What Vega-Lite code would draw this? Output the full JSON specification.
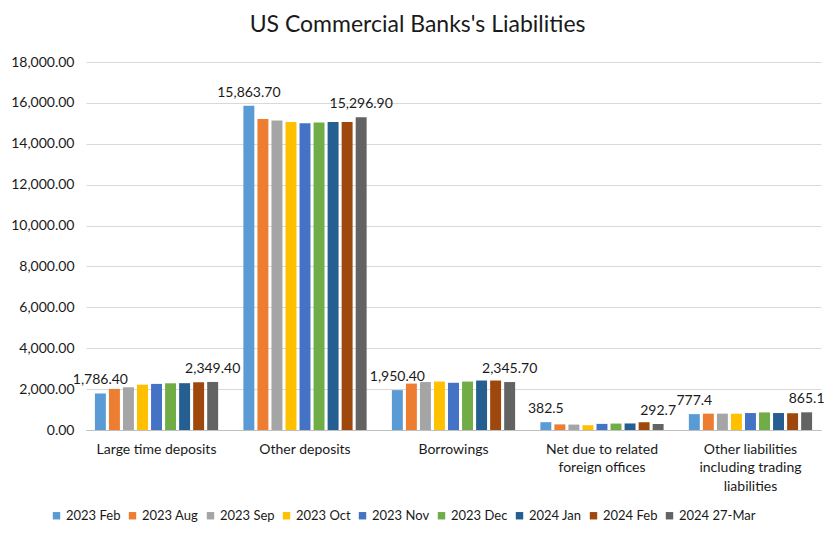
{
  "$schema": "https://vega.github.io/schema/vega-lite/v6.json",
  "autosize": {"type": "pad"},
  "width": 735,
  "height": 368,
  "padding": {"left": 10, "right": 10, "top": 14, "bottom": 10},
  "background": "white",
  "title": {"text": "US Commercial  Banks's Liabilities", "fontSize": 23, "font": "Lato", "fontWeight": "normal", "color": "#1a1a1a", "offset": 18, "frame": "bounds"},
  "data": {"values": [
    {"category": "Large time deposits", "series": "2023 Feb", "value": 1786.4},
    {"category": "Large time deposits", "series": "2023 Aug", "value": 2010},
    {"category": "Large time deposits", "series": "2023 Sep", "value": 2090},
    {"category": "Large time deposits", "series": "2023 Oct", "value": 2215},
    {"category": "Large time deposits", "series": "2023 Nov", "value": 2255},
    {"category": "Large time deposits", "series": "2023 Dec", "value": 2285},
    {"category": "Large time deposits", "series": "2024 Jan", "value": 2290},
    {"category": "Large time deposits", "series": "2024 Feb", "value": 2335},
    {"category": "Large time deposits", "series": "2024 27-Mar", "value": 2349.4},
    {"category": "Other deposits", "series": "2023 Feb", "value": 15863.7},
    {"category": "Other deposits", "series": "2023 Aug", "value": 15210},
    {"category": "Other deposits", "series": "2023 Sep", "value": 15140},
    {"category": "Other deposits", "series": "2023 Oct", "value": 15070},
    {"category": "Other deposits", "series": "2023 Nov", "value": 15000},
    {"category": "Other deposits", "series": "2023 Dec", "value": 15035},
    {"category": "Other deposits", "series": "2024 Jan", "value": 15065},
    {"category": "Other deposits", "series": "2024 Feb", "value": 15065},
    {"category": "Other deposits", "series": "2024 27-Mar", "value": 15296.9},
    {"category": "Borrowings", "series": "2023 Feb", "value": 1950.4},
    {"category": "Borrowings", "series": "2023 Aug", "value": 2270},
    {"category": "Borrowings", "series": "2023 Sep", "value": 2345},
    {"category": "Borrowings", "series": "2023 Oct", "value": 2370},
    {"category": "Borrowings", "series": "2023 Nov", "value": 2310},
    {"category": "Borrowings", "series": "2023 Dec", "value": 2370},
    {"category": "Borrowings", "series": "2024 Jan", "value": 2420},
    {"category": "Borrowings", "series": "2024 Feb", "value": 2420},
    {"category": "Borrowings", "series": "2024 27-Mar", "value": 2345.7},
    {"category": "Net due to related foreign offices", "series": "2023 Feb", "value": 382.5},
    {"category": "Net due to related foreign offices", "series": "2023 Aug", "value": 275},
    {"category": "Net due to related foreign offices", "series": "2023 Sep", "value": 265},
    {"category": "Net due to related foreign offices", "series": "2023 Oct", "value": 235},
    {"category": "Net due to related foreign offices", "series": "2023 Nov", "value": 300},
    {"category": "Net due to related foreign offices", "series": "2023 Dec", "value": 315},
    {"category": "Net due to related foreign offices", "series": "2024 Jan", "value": 320},
    {"category": "Net due to related foreign offices", "series": "2024 Feb", "value": 380},
    {"category": "Net due to related foreign offices", "series": "2024 27-Mar", "value": 292.7},
    {"category": "Other liabilities including trading liabilities", "series": "2023 Feb", "value": 777.4},
    {"category": "Other liabilities including trading liabilities", "series": "2023 Aug", "value": 800},
    {"category": "Other liabilities including trading liabilities", "series": "2023 Sep", "value": 800},
    {"category": "Other liabilities including trading liabilities", "series": "2023 Oct", "value": 795},
    {"category": "Other liabilities including trading liabilities", "series": "2023 Nov", "value": 830},
    {"category": "Other liabilities including trading liabilities", "series": "2023 Dec", "value": 860},
    {"category": "Other liabilities including trading liabilities", "series": "2024 Jan", "value": 830},
    {"category": "Other liabilities including trading liabilities", "series": "2024 Feb", "value": 820},
    {"category": "Other liabilities including trading liabilities", "series": "2024 27-Mar", "value": 865.1}
  ]},
  "encoding": {
    "x": {
      "field": "category", "type": "nominal", "sort": null,
      "scale": {"paddingInner": 0.17, "paddingOuter": 0.06},
      "axis": {
        "title": null, "labelAngle": 0, "labelFontSize": 14, "labelFont": "Lato", "labelColor": "#1a1a1a",
        "ticks": false, "domainColor": "#bfbfbf", "labelPadding": 12, "labelLineHeight": 18.5,
        "labelExpr": "datum.value == 'Net due to related foreign offices' ? ['Net due to related', 'foreign offices'] : datum.value == 'Other liabilities including trading liabilities' ? ['Other liabilities', 'including trading', 'liabilities'] : datum.value"
      }
    },
    "xOffset": {"field": "series", "type": "nominal", "sort": null, "scale": {"paddingInner": 0.22}},
    "y": {
      "field": "value", "type": "quantitative",
      "scale": {"domain": [0, 18000]},
      "axis": {"title": null, "format": ",.2f", "values": [0,2000,4000,6000,8000,10000,12000,14000,16000,18000], "labelOverlap": false, "labelFontSize": 14, "labelFont": "Lato", "labelColor": "#1a1a1a", "ticks": false, "domain": false, "gridColor": "#d9d9d9", "labelPadding": 12}
    }
  },
  "layer": [
    {
      "mark": {"type": "bar"},
      "encoding": {
        "color": {
          "field": "series", "type": "nominal", "sort": null,
          "scale": {
            "domain": ["2023 Feb", "2023 Aug", "2023 Sep", "2023 Oct", "2023 Nov", "2023 Dec", "2024 Jan", "2024 Feb", "2024 27-Mar"],
            "range": ["#5B9BD5", "#ED7D31", "#A5A5A5", "#FFC000", "#4472C4", "#70AD47", "#255E91", "#9E480E", "#636363"]
          },
          "legend": {"orient": "none", "legendX": -36, "legendY": 447, "direction": "horizontal", "title": null, "symbolType": "square", "symbolSize": 55, "labelFontSize": 13, "labelFont": "Lato", "labelColor": "#1a1a1a", "columnPadding": 5, "labelOffset": 3, "symbolStrokeWidth": 0}
        }
      }
    },
    {
      "transform": [
        {"filter": "datum.series == '2023 Feb' || datum.series == '2024 27-Mar'"},
        {"calculate": "datum.value > 1000 ? format(datum.value, ',.2f') : format(datum.value, '.1f')", "as": "label"}
      ],
      "mark": {"type": "text", "dy": -13, "fontSize": 14, "font": "Lato", "color": "#1a1a1a"},
      "encoding": {"text": {"field": "label"}}
    }
  ],
  "config": {"view": {"stroke": null}}
}
